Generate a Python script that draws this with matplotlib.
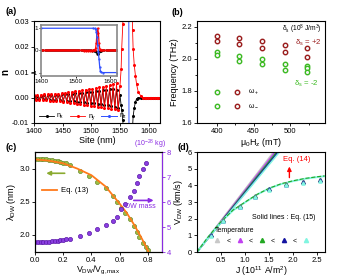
import numpy as np
import matplotlib
matplotlib.use('Agg')
import matplotlib.pyplot as plt
from matplotlib.lines import Line2D

plt.rcParams['font.family'] = ['Liberation Sans', 'DejaVu Sans']
plt.rcParams['mathtext.fontset'] = 'custom'
plt.rcParams['mathtext.rm'] = 'Liberation Sans'
plt.rcParams['mathtext.it'] = 'Liberation Sans:italic'
plt.rcParams['mathtext.default'] = 'regular'
plt.rcParams['axes.linewidth'] = 0.8
plt.rcParams['xtick.major.size'] = 2
plt.rcParams['ytick.major.size'] = 2
plt.rcParams['xtick.minor.size'] = 1.2
plt.rcParams['ytick.minor.size'] = 1.2
plt.rcParams['xtick.major.width'] = 0.6
plt.rcParams['ytick.major.width'] = 0.6
plt.rcParams['xtick.labelsize'] = 5.5
plt.rcParams['ytick.labelsize'] = 5.5
plt.rcParams['xtick.major.pad'] = 1.5
plt.rcParams['ytick.major.pad'] = 1.5

#----- (a) data: spin components along the wire
site_osc = np.arange(1400, 1551, 3)
ny_osc = [0.0011, -0.0009, 0.0010, -0.0010, 0.0011, -0.0010, 0.0012, -0.0011, 0.0013, -0.0012,
          0.0013, -0.0013, 0.0014, -0.0014, 0.0015, -0.0015, 0.0017, -0.0017, 0.0018, -0.0018,
          0.0020, -0.0020, 0.0022, -0.0022, 0.0024, -0.0024, 0.0026, -0.0026, 0.0028, -0.0028,
          0.0031, -0.0030, 0.0033, -0.0032, 0.0035, -0.0034, 0.0037, -0.0036, 0.0040, -0.0038,
          0.0042, -0.0040, 0.0045, -0.0042, 0.0048, -0.0045, 0.0052, -0.0047, 0.0055, -0.0048, 0.0045]
nx_osc = [0.0007, -0.0005, 0.0006, -0.0006, 0.0007, -0.0006, 0.0008, -0.0007, 0.0008, -0.0008,
          0.0009, -0.0009, 0.0010, -0.0010, 0.0011, -0.0011, 0.0012, -0.0012, 0.0013, -0.0013,
          0.0014, -0.0014, 0.0015, -0.0015, 0.0016, -0.0016, 0.0017, -0.0018, 0.0018, -0.0019,
          0.0020, -0.0020, 0.0021, -0.0022, 0.0023, -0.0023, 0.0024, -0.0025, 0.0026, -0.0027,
          0.0028, -0.0029, 0.0030, -0.0031, 0.0032, -0.0033, 0.0034, -0.0036, 0.0030, -0.0040, 0.0010]
site_dw = [1552, 1553, 1555, 1556, 1558, 1560, 1562, 1564, 1566, 1568, 1570, 1572, 1573, 1575,
           1577, 1579, 1582, 1587, 1590, 1593, 1596, 1599, 1602, 1605, 1608, 1611, 1614, 1617, 1620]
ny_dw = [0.011, 0.019, 0.029, 0.038, 0.10, 0.35, 0.80, 1.00, 0.80, 0.35, 0.08, 0.0265, 0.019, 0.0126,
         0.0086, 0.0052, 0.0021, 0.0004, 0, 0, 0, 0, 0, 0, 0, 0, 0, 0, 0]
nx_dw = [-0.003, -0.005, -0.009, -0.013, -0.04, -0.09, -0.14, -0.15, -0.14, -0.09, -0.04, -0.0117,
         -0.0074, -0.004, -0.0017, -0.0005, -0.0001, 0, 0, 0, 0, 0, 0, 0, 0, 0, 0, 0, 0]
site_z = [1400, 1550, 1555, 1558, 1560, 1562, 1564, 1566, 1568, 1570, 1572, 1575, 1580, 1620]
nz = [1, 1, 0.99, 0.95, 0.85, 0.6, 0.25, -0.05, -0.4, -0.75, -0.93, -0.99, -1, -1]

site = np.concatenate([site_osc, site_dw])
nx = np.concatenate([nx_osc, nx_dw])
ny = np.concatenate([ny_osc, ny_dw])

#----- (b) data: frequencies
H_plus = [400, 400, 430, 430, 461, 461, 492, 492, 523, 523]
f_plus = [2.144, 2.113, 2.127, 2.094, 2.108, 2.065, 2.085, 2.044, 2.065, 2.013]
H_minus = [400, 400, 430, 430, 461, 461, 492, 492, 523, 523, 523]
f_minus = [2.040, 2.023, 2.019, 1.988, 1.996, 1.965, 1.969, 1.931, 1.955, 1.940, 1.917]
H_low_plus = [427, 427]
f_low_plus = [1.79, 1.706]
H_low_minus = [400, 400]
f_low_minus = [1.79, 1.706]

#----- (c) data: width and mass vs velocity
v_lam = [0.0, 0.02, 0.04, 0.06, 0.08, 0.10, 0.12, 0.14, 0.16, 0.18, 0.20, 0.22, 0.25, 0.32,
         0.38, 0.44, 0.50, 0.55, 0.58, 0.61, 0.64, 0.67, 0.70, 0.72, 0.74, 0.765, 0.785, 0.80]
lam = [3.15, 3.15, 3.15, 3.14, 3.14, 3.13, 3.13, 3.12, 3.11, 3.10, 3.09, 3.08, 3.05, 2.97,
       2.89, 2.80, 2.70, 2.58, 2.50, 2.41, 2.33, 2.24, 2.14, 2.05, 1.97, 1.88, 1.81, 1.77]
v_mass = [0.0, 0.02, 0.04, 0.06, 0.08, 0.10, 0.12, 0.14, 0.16, 0.18, 0.20, 0.22, 0.25, 0.32,
          0.38, 0.44, 0.50, 0.55, 0.58, 0.61, 0.64, 0.67, 0.70, 0.72, 0.74, 0.765, 0.785]
mass = [4.39, 4.39, 4.40, 4.40, 4.41, 4.42, 4.43, 4.44, 4.45, 4.47, 4.49, 4.51, 4.54, 4.65,
        4.78, 4.92, 5.09, 5.25, 5.42, 5.71, 5.92, 6.19, 6.45, 6.75, 7.04, 7.31, 7.57]
v_eq13 = [0.0, 0.1, 0.2, 0.3, 0.4, 0.5, 0.6, 0.65, 0.7, 0.75, 0.78, 0.80, 0.81]
lam_eq13 = [3.14, 3.12, 3.08, 3.00, 2.90, 2.73, 2.47, 2.33, 2.16, 1.97, 1.85, 1.76, 1.71]

#----- (d) data: velocity vs current
temp_colors = ['#c8c8c8', '#c040f0', '#22a822', '#1414a0', '#80f5e0']
J_fit = [0.0, 1.8]
V_fit = [[0, 6.80], [0, 6.66], [0, 6.52], [0, 6.40], [0, 6.30]]
J_eq14 = [0, 0.25, 0.5, 0.75, 1.0, 1.25, 1.5, 1.75, 2.0, 2.25, 2.5, 2.65]
V_eq14 = [0, 0.95, 1.80, 2.50, 2.98, 3.45, 3.82, 4.08, 4.26, 4.40, 4.50, 4.55]
V_eq14_g = [0, 0.97, 1.82, 2.52, 3.00, 3.46, 3.83, 4.10, 4.28, 4.42, 4.52, 4.57]
J_pts = [0.3, 0.55, 0.9, 1.2, 1.5, 1.85, 2.2, 2.55]
V_pts = [[1.05, 1.92, 2.78, 3.38, 3.80, 4.10, 4.25, 4.38],
         [1.03, 1.90, 2.76, 3.36, 3.79, 4.08, 4.22, 4.34],
         [1.02, 1.90, 2.75, 3.35, 3.78, 4.07, 4.20, 4.32],
         [1.00, 1.88, 2.73, 3.33, 3.76, 4.05, 4.18, 4.30],
         [0.98, 1.86, 2.72, 3.32, 3.75, 4.04, 4.17, 4.28]]

fig = plt.figure(figsize=(3.51, 2.77), dpi=100)

#----- (a)
ax = fig.add_axes([0.097, 0.556, 0.359, 0.368])
ax.plot(site, nx, '-o', color='black', lw=0.6, ms=1.2, label='$n_x$')
ax.plot(site, ny, '-o', color='red', lw=0.6, ms=1.2, label='$n_y$')
ax.plot(site_z, nz, '-o', color='#3050ff', lw=0.7, ms=1.2, label='$n_z$')
ax.set_xlim(1400, 1620)
ax.set_ylim(-0.01, 0.03)
ax.set_xticks([1400, 1450, 1500, 1550, 1600])
ax.set_yticks([-0.01, 0.0, 0.01, 0.02, 0.03])
ax.set_yticklabels(['-0.01', '0.00', '0.01', '0.02', '0.03'])
ax.set_xlabel('Site (nm)', fontsize=6.5, labelpad=0.5)
ax.set_ylabel('n', fontsize=7, fontweight='bold', labelpad=1)
ax.legend(loc='lower left', ncol=3, frameon=False, fontsize=5, handlelength=2.2,
          handletextpad=0.3, columnspacing=0.8, bbox_to_anchor=(0.0, -0.04), borderpad=0.2)

ins = fig.add_axes([0.118, 0.726, 0.215, 0.184])
ins.plot(site, nx, '-o', color='black', lw=0.6, ms=0.6)
ins.plot(site, ny, '-o', color='red', lw=0.9, ms=0.6)
ins.plot(site_z, nz, '-o', color='#3050ff', lw=0.9, ms=0.6)
ins.set_xlim(1400, 1620)
ins.set_ylim(-1.15, 1.15)
ins.set_xticks([1400, 1500, 1600])
ins.set_yticks([-1, 0, 1])
ins.tick_params(labelsize=4.5, length=1.5, pad=1)
for s in ins.spines.values():
    s.set_color('#888888')
    s.set_linewidth(1.2)

#----- (b)
bx = fig.add_axes([0.561, 0.556, 0.365, 0.368])
dred = '#9a1c1c'
grn = '#3cba22'
for H, f, c in [(H_plus, f_plus, dred), (H_minus, f_minus, grn),
                (H_low_plus, f_low_plus, dred), (H_low_minus, f_low_minus, grn)]:
    bx.plot(H, f, 'o', ms=3.2, mfc='#f4f4f4', mec=c, mew=1.0, ls='none')
bx.set_xlim(373, 547)
bx.set_ylim(1.6, 2.235)
bx.set_xticks([400, 450, 500])
bx.set_xticks([425, 475, 525], minor=True)
bx.set_yticks([1.6, 1.8, 2.0, 2.2])
bx.set_yticks([1.7, 1.9, 2.1], minor=True)
bx.set_xlabel(r'$\mu_0H_z$ (mT)', fontsize=6.5, labelpad=0.5)
bx.set_ylabel('Frequency (THz)', fontsize=6.5, labelpad=2)
bx.text(0.975, 0.985, r'$\delta_s$ (10$^8$ J/m$^3$)', transform=bx.transAxes,
        ha='right', va='top', fontsize=4.8)
bx.text(0.975, 0.79, r'$\delta_s$ = +2', transform=bx.transAxes, ha='right', va='center',
        fontsize=5.6, color=dred)
bx.text(0.95, 0.38, r'$\delta_s$ = -2', transform=bx.transAxes, ha='right', va='center',
        fontsize=5.6, color=grn)
bx.text(442, f_low_plus[0], r'$\omega_+$', ha='left', va='center', fontsize=5)
bx.text(442, f_low_plus[1], r'$\omega_-$', ha='left', va='center', fontsize=5)

#----- (c)
cx = fig.add_axes([0.0997, 0.09, 0.362, 0.361])
purple = '#8a2be2'
cx.plot(v_eq13, lam_eq13, color='#ff7a1a', lw=1.3, zorder=3, label='Eq. (13)')
cx.plot(v_lam, lam, 'o', ms=3.0, mfc='#9cbf45', mec='#6b8a2a', mew=0.5, ls='none', zorder=2)
cx.set_xlim(0, 0.9)
cx.set_ylim(1.74, 3.25)
cx.set_xticks([0.0, 0.2, 0.4, 0.6, 0.8])
cx.set_xticklabels(['0.0', '0.2', '0.4', '0.6', '0.8'])
cx.set_yticks([2.0, 2.5, 3.0])
cx.set_xlabel(r'$V_{DW}/V_{g,max}$', fontsize=6.3, labelpad=0)
cx.set_ylabel(r'$\lambda_{DW}$ (nm)', fontsize=6.5, labelpad=1)
cx.legend(loc='upper left', bbox_to_anchor=(0.0, 0.72), frameon=False, fontsize=5.5,
          handlelength=2.0, handletextpad=0.5)
cx.annotate('', xy=(0.06, 2.93), xytext=(0.23, 2.93),
            arrowprops=dict(arrowstyle='-|>', color='#8aaa30', lw=1.2, mutation_scale=6))
cx.annotate('', xy=(0.86, 2.52), xytext=(0.68, 2.52),
            arrowprops=dict(arrowstyle='-|>', color=purple, lw=1.2, mutation_scale=6))
cx.text(0.64, 2.43, 'DW mass', color=purple, fontsize=5, ha='left', va='center')

cx2 = cx.twinx()
cx2.plot(v_mass, mass, 'o', ms=3.0, mfc='#8a3ee0', mec='#5a18a8', mew=0.5, ls='none')
cx2.set_ylim(4, 8)
cx2.set_yticks([4, 5, 6, 7, 8])
cx2.tick_params(axis='y', colors=purple, labelsize=5.5)
cx2.spines['right'].set_color(purple)
cx2.text(0.905, 1.01, r'(10$^{-28}$ kg)', transform=cx2.transAxes, color=purple,
         fontsize=5, ha='center', va='bottom')

#----- (d)
dx = fig.add_axes([0.561, 0.09, 0.365, 0.361])
for c, Vf in zip(temp_colors, V_fit):
    dx.plot(J_fit, Vf, color=c, lw=1.1)
dx.plot(J_eq14, V_eq14, color=temp_colors[4], lw=1.4)
dx.plot(J_eq14, V_eq14_g, '--', color=temp_colors[2], lw=0.8)
for c, Vp in zip(temp_colors, V_pts):
    dx.plot(J_pts, Vp, '^', color=c, ms=2.3, ls='none')
dx.set_xlim(0, 2.66)
dx.set_ylim(0, 6)
dx.set_xticks([0.5, 1.0, 1.5, 2.0, 2.5])
dx.set_yticks([0, 1, 2, 3, 4, 5, 6])
dx.set_xlabel(r'J (10$^{11}$ A/m$^2$)', fontsize=6.3, labelpad=0)
dx.set_ylabel(r'$V_{DW}$ (km/s)', fontsize=6.5, labelpad=2)
dx.annotate('', xy=(1.92, 5.3), xytext=(1.92, 4.3),
            arrowprops=dict(arrowstyle='-|>', color='red', lw=1.0, mutation_scale=6))
dx.text(1.78, 5.55, 'Eq. (14)', color='red', fontsize=5.5, ha='left', va='center')
dx.text(1.14, 2.05, 'Solid lines : Eq. (15)', fontsize=5, ha='left', va='center')
handles = [Line2D([], [], marker='^', color=c, ls='none', ms=3) for c in temp_colors]
leg = dx.legend(handles, ['<', '<', '<', '<', ''], loc='lower left', ncol=5, frameon=False,
                fontsize=5, title='Temperature', title_fontsize=5, handlelength=0.8,
                handletextpad=0.9, columnspacing=0.9, bbox_to_anchor=(0.1, 0.03),
                borderpad=0.2, alignment='left')

fig.text(0.015, 0.96, '(a)', fontsize=6.5, fontweight='bold', va='center')
fig.text(0.49, 0.955, '(b)', fontsize=6.5, fontweight='bold', va='center')
fig.text(0.015, 0.468, '(c)', fontsize=6.5, fontweight='bold', va='center')
fig.text(0.505, 0.468, '(d)', fontsize=6.5, fontweight='bold', va='center')

plt.savefig('out.png', dpi=100)
